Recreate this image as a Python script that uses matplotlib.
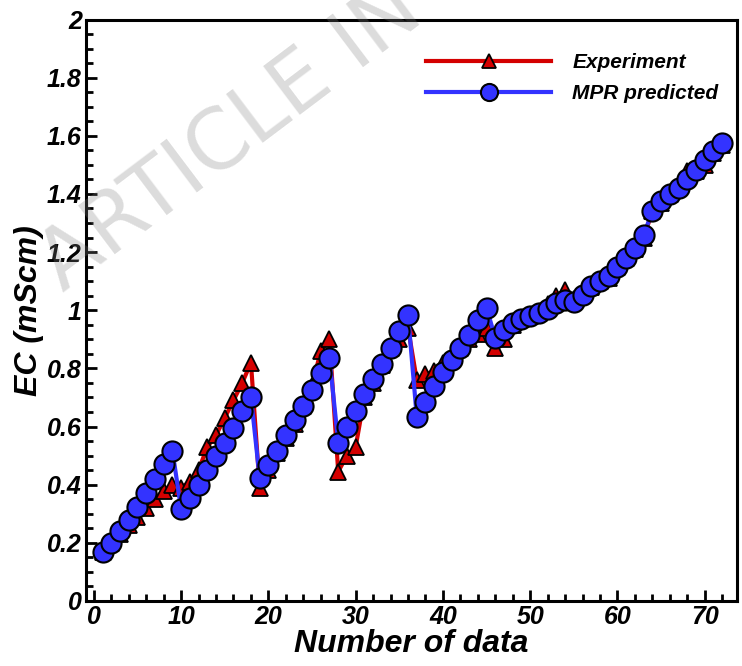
import numpy as np
import matplotlib
matplotlib.use('Agg')
import matplotlib.pyplot as plt
from matplotlib.ticker import MultipleLocator, FormatStrFormatter

plt.rcParams['font.family'] = ['Liberation Sans', 'DejaVu Sans']

#################################################
# DATA
#################################################
n_data = np.arange(1, 73)

experiment = [
    0.17, 0.20, 0.23, 0.26, 0.29, 0.32, 0.35, 0.38, 0.40,
    0.39, 0.41, 0.45, 0.53, 0.57, 0.63, 0.69, 0.75, 0.82,
    0.39, 0.45, 0.51, 0.56, 0.61, 0.67, 0.74, 0.86, 0.90,
    0.445, 0.50, 0.53, 0.70, 0.75, 0.81, 0.87, 0.90, 0.94,
    0.76, 0.78, 0.79, 0.82, 0.84, 0.87, 0.90, 0.92, 0.94,
    0.87, 0.90, 0.95, 0.97, 0.98, 0.99, 1.02, 1.05, 1.07,
    1.04, 1.06, 1.08, 1.10, 1.11, 1.15, 1.18, 1.21, 1.25,
    1.34, 1.37, 1.40, 1.43, 1.48, 1.48, 1.50, 1.54, 1.57,
]

mpr_predicted = [
    0.17, 0.20, 0.24, 0.28, 0.325, 0.37, 0.42, 0.47, 0.517,
    0.316, 0.353, 0.40, 0.449, 0.497, 0.545, 0.594, 0.652, 0.703,
    0.422, 0.468, 0.516, 0.571, 0.623, 0.671, 0.726, 0.784, 0.835,
    0.545, 0.598, 0.655, 0.713, 0.763, 0.816, 0.870, 0.927, 0.985,
    0.634, 0.686, 0.738, 0.789, 0.830, 0.870, 0.916, 0.965, 1.008,
    0.904, 0.933, 0.956, 0.970, 0.979, 0.990, 1.004, 1.025, 1.036,
    1.030, 1.053, 1.082, 1.099, 1.118, 1.148, 1.18, 1.214, 1.26,
    1.34, 1.375, 1.401, 1.421, 1.452, 1.481, 1.516, 1.547, 1.576,
]

#################################################
# PLOT
#################################################
fig = plt.figure(figsize=(7.42, 6.66), dpi=100)
ax = fig.add_axes([0.1159, 0.0976, 0.8774, 0.8731])

ax.plot(n_data, experiment, color='#d40000', lw=3.0, marker='^', ms=12,
        mfc='#d40000', mec='black', mew=1.3, label='Experiment', zorder=3)
ax.plot(n_data, mpr_predicted, color='#3333ff', lw=3.0, marker='o', ms=14.5,
        mfc='#3333ff', mec='black', mew=1.5, label='MPR predicted', zorder=4)

ax.set_xlim(-0.9, 73.7)
ax.set_ylim(0, 2)

ax.xaxis.set_major_locator(MultipleLocator(10))
ax.xaxis.set_minor_locator(MultipleLocator(2))
ax.yaxis.set_major_locator(MultipleLocator(0.2))
ax.yaxis.set_minor_locator(MultipleLocator(0.05))
ax.yaxis.set_major_formatter(FormatStrFormatter('%g'))

ax.tick_params(which='both', direction='in', top=False, right=False, width=2)
ax.tick_params(which='major', length=8, labelsize=18, pad=3)
ax.tick_params(which='minor', length=5)
for lab in ax.get_xticklabels() + ax.get_yticklabels():
    lab.set_fontweight('bold')
    lab.set_fontstyle('italic')

for sp in ax.spines.values():
    sp.set_linewidth(2.2)

ax.set_xlabel('Number of data', fontsize=23, fontweight='bold', fontstyle='italic', labelpad=0)
ax.set_ylabel('EC (mScm)', fontsize=23, fontweight='bold', fontstyle='italic', labelpad=2)

leg = ax.legend(loc='upper right', bbox_to_anchor=(1.0, 0.975), frameon=False,
                handlelength=6.0, prop={'weight': 'bold', 'style': 'italic', 'size': 15},
                labelspacing=0.6, handletextpad=1.0, markerscale=0.85)

# watermark
fig.text(0.085, 0.56, 'ARTICLE IN', fontsize=60, color='0.5', alpha=0.28,
         rotation=37, rotation_mode='anchor', ha='left', va='baseline',
         family='DejaVu Sans', zorder=10)

plt.savefig('out.png', dpi=100)
